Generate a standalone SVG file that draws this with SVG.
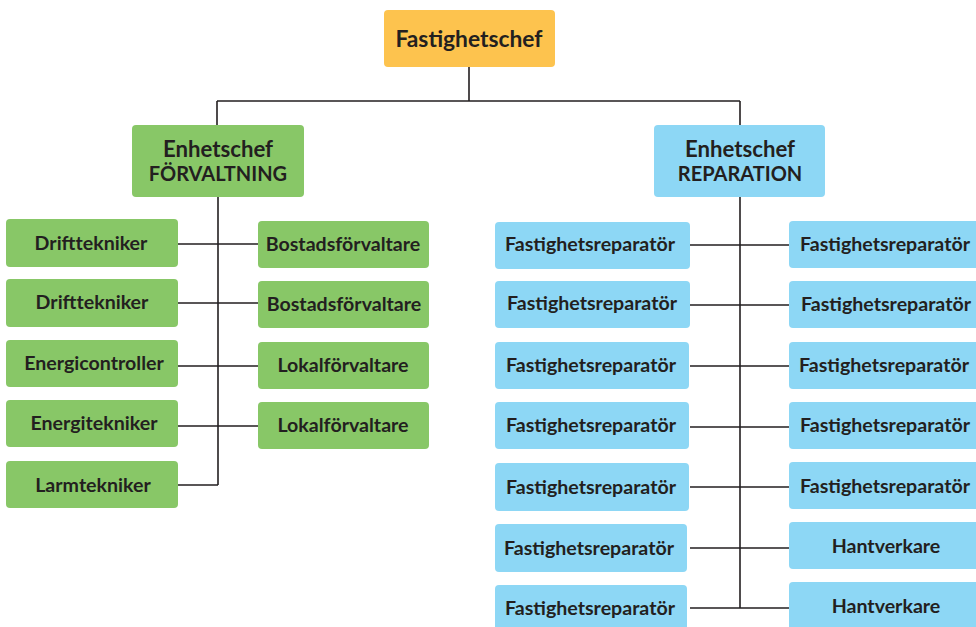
<svg xmlns="http://www.w3.org/2000/svg" width="976" height="627" viewBox="0 0 976 627">
<style>
.top{fill:#FDC34E}
.g{fill:#88C767}
.b{fill:#8DD7F5}
text{font-family:Lato,"Open Sans","Liberation Sans",sans-serif;font-weight:700;fill:#231F20;text-anchor:middle}
.t1{font-size:22.8px}
.h{font-size:22.2px}
.hs{font-size:20px}
.c{font-size:19.6px}
.conn{stroke:#231F20;stroke-width:1.6;fill:none}
</style>
<g id="connectors" class="conn">
<path d="M469,67V101M217,101H740M217,101V125M740,101V125"/>
<path d="M218,197V485"/>
<path d="M178,244H258M178,303H258M178,366H258M178,426H258M178,485H218"/>
<path d="M740,197V608"/>
<path d="M690,245H789M690,305H789M690,366H789M690,427H789M690,487H789M690,548H789M690,608H789"/>
</g>
<g id="n-fastighetschef"><rect class="top" x="384" y="10" width="171" height="57" rx="4"/><text class="t1" x="469" y="47">Fastighetschef</text></g>
<g id="n-forvaltning"><rect class="g" x="132" y="125" width="172" height="72" rx="4"/><text class="h" x="218" y="157">Enhetschef</text><text class="hs" x="218" y="181">FÖRVALTNING</text></g>
<g id="n-reparation"><rect class="b" x="654" y="125" width="171" height="72" rx="4"/><text class="h" x="740" y="157">Enhetschef</text><text class="hs" x="740" y="181">REPARATION</text></g>

<g id="n-l1"><rect class="g" x="6" y="219" width="172" height="48" rx="4"/><text class="c" x="91" y="250">Drifttekniker</text></g>
<g id="n-l2"><rect class="g" x="6" y="279" width="172" height="48" rx="4"/><text class="c" x="92" y="309">Drifttekniker</text></g>
<g id="n-l3"><rect class="g" x="6" y="340" width="172" height="47" rx="4"/><text class="c" x="94" y="370">Energicontroller</text></g>
<g id="n-l4"><rect class="g" x="6" y="400" width="172" height="47" rx="4"/><text class="c" x="94" y="430">Energitekniker</text></g>
<g id="n-l5"><rect class="g" x="6" y="461" width="172" height="47" rx="4"/><text class="c" x="93" y="492">Larmtekniker</text></g>

<g id="n-r1"><rect class="g" x="258" y="221" width="171" height="47" rx="4"/><text class="c" x="343" y="251">Bostadsförvaltare</text></g>
<g id="n-r2"><rect class="g" x="258" y="281" width="171" height="47" rx="4"/><text class="c" x="344" y="311">Bostadsförvaltare</text></g>
<g id="n-r3"><rect class="g" x="258" y="342" width="171" height="47" rx="4"/><text class="c" x="343" y="372">Lokalförvaltare</text></g>
<g id="n-r4"><rect class="g" x="258" y="402" width="171" height="47" rx="4"/><text class="c" x="343" y="432">Lokalförvaltare</text></g>

<g id="n-fa1"><rect class="b" x="495" y="222" width="195" height="47" rx="4"/><text class="c" x="590" y="251">Fastighetsreparatör</text></g>
<g id="n-fa2"><rect class="b" x="495" y="281" width="195" height="47" rx="4"/><text class="c" x="592" y="310">Fastighetsreparatör</text></g>
<g id="n-fa3"><rect class="b" x="495" y="342" width="194" height="47" rx="4"/><text class="c" x="591" y="372">Fastighetsreparatör</text></g>
<g id="n-fa4"><rect class="b" x="495" y="402" width="194" height="47" rx="4"/><text class="c" x="591" y="432">Fastighetsreparatör</text></g>
<g id="n-fa5"><rect class="b" x="495" y="463" width="194" height="48" rx="4"/><text class="c" x="591" y="494">Fastighetsreparatör</text></g>
<g id="n-fa6"><rect class="b" x="495" y="524" width="192" height="48" rx="4"/><text class="c" x="589" y="555">Fastighetsreparatör</text></g>
<g id="n-fa7"><rect class="b" x="495" y="585" width="192" height="48" rx="4"/><text class="c" x="590" y="615">Fastighetsreparatör</text></g>

<g id="n-fb1"><rect class="b" x="789" y="221" width="195" height="47" rx="4"/><text class="c" x="885" y="251">Fastighetsreparatör</text></g>
<g id="n-fb2"><rect class="b" x="789" y="281" width="195" height="47" rx="4"/><text class="c" x="886" y="311">Fastighetsreparatör</text></g>
<g id="n-fb3"><rect class="b" x="789" y="342" width="195" height="47" rx="4"/><text class="c" x="884" y="372">Fastighetsreparatör</text></g>
<g id="n-fb4"><rect class="b" x="789" y="402" width="195" height="47" rx="4"/><text class="c" x="885" y="432">Fastighetsreparatör</text></g>
<g id="n-fb5"><rect class="b" x="789" y="462" width="195" height="47" rx="4"/><text class="c" x="885" y="493">Fastighetsreparatör</text></g>
<g id="n-hv1"><rect class="b" x="789" y="522" width="195" height="47" rx="4"/><text class="c" x="886" y="553">Hantverkare</text></g>
<g id="n-hv2"><rect class="b" x="789" y="582" width="195" height="50" rx="4"/><text class="c" x="886" y="613">Hantverkare</text></g>
</svg>
